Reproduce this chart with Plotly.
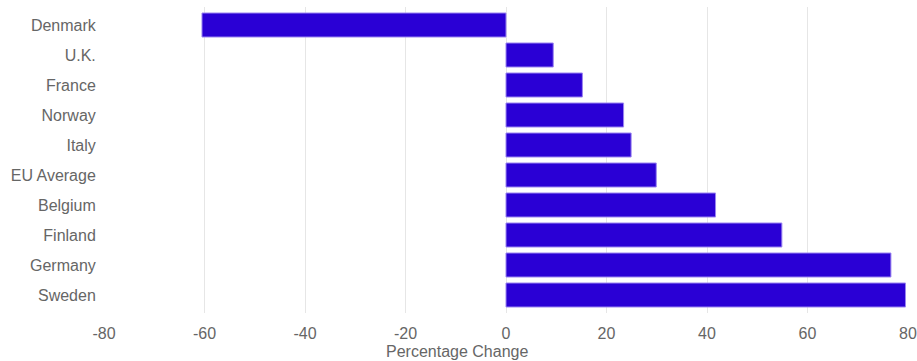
import plotly.graph_objects as go

countries = ["Denmark", "U.K.", "France", "Norway", "Italy", "EU Average",
             "Belgium", "Finland", "Germany", "Sweden"]
values = [-60.5, 9.4, 15.2, 23.4, 24.9, 29.9, 41.7, 54.9, 76.6, 79.5]
tick_vals = [-80, -60, -40, -20, 0, 20, 40, 60, 80]
tick_text = ["-80", "-60", "-40", "-20", "0", "20", "40", "60", "80"]
x_title = "Percentage Change"

font_family = "Liberation Sans, Arial, sans-serif"
text_color = "#666666"

fig = go.Figure(go.Bar(
    x=values, y=countries, orientation="h",
    marker=dict(color="#2a00d5", line=dict(color="#9b85f0", width=1)),
    hoverinfo="x+y",
))

fig.update_layout(
    width=917, height=361,
    margin=dict(l=104, r=9, t=7, b=48, autoexpand=False),
    paper_bgcolor="white", plot_bgcolor="white",
    bargap=0.2,
    showlegend=False,
    font=dict(family=font_family, size=16, color=text_color),
    xaxis=dict(
        range=[-80, 80], tickvals=tick_vals, ticktext=tick_text,
        showgrid=True, gridcolor="#e6e6e6", gridwidth=1,
        zeroline=False, showline=False,
        ticks="outside", ticklen=6, tickcolor="rgba(0,0,0,0)",
        automargin=False,
        tickfont=dict(size=16, color=text_color),
    ),
    yaxis=dict(
        categoryorder="array", categoryarray=countries,
        range=[len(countries) - 0.4, -0.6],
        showgrid=False, zeroline=False, showline=False,
        ticks="outside", ticklen=4, tickcolor="rgba(0,0,0,0)",
        automargin=False,
        tickfont=dict(size=16, color=text_color),
    ),
    annotations=[dict(
        text=x_title, xref="paper", yref="paper",
        x=(457 - 104) / 804, y=0, yshift=-38,
        xanchor="center", yanchor="middle", showarrow=False,
        font=dict(size=16, color=text_color, family=font_family),
    )],
)

fig.write_html("out.html")
